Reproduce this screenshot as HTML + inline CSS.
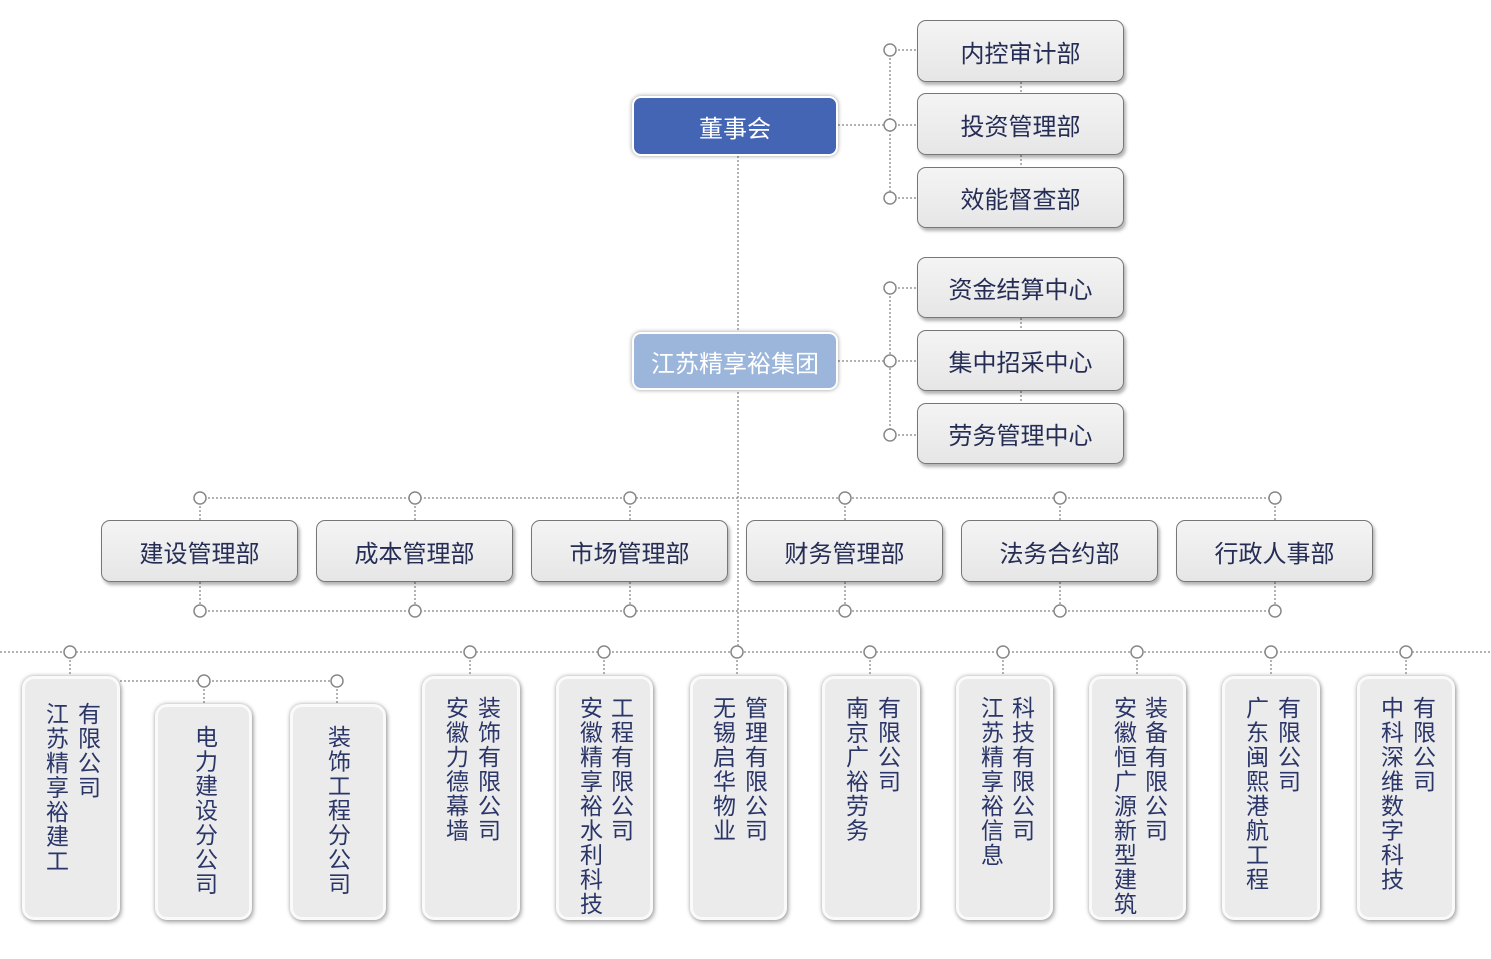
<!DOCTYPE html>
<html><head><meta charset="utf-8"><style>
body{margin:0;width:1491px;height:959px;background:#fff;position:relative;overflow:hidden;font-family:"Liberation Sans","Noto Sans CJK SC",sans-serif}
.b{position:absolute;box-sizing:border-box;border:1.5px solid #777;border-radius:9px;background:linear-gradient(#f4f4f4,#e6e6e6);box-shadow:2px 3px 3px rgba(0,0,0,.3);display:flex;align-items:center;justify-content:center;font-size:24px;color:#252d55}
.s{position:absolute;box-sizing:border-box;border:3px solid #fafafa;border-radius:12px;background:#ebebec;box-shadow:0 0 4px rgba(0,0,0,.35),2px 3px 4px rgba(0,0,0,.2)}
.v{position:absolute;writing-mode:vertical-lr;font-size:23px;letter-spacing:1.5px;color:#2b3668;line-height:1;transform:translateX(-50%)}
svg{position:absolute;left:0;top:0}
</style></head><body>
<svg width="1491" height="959">
<g stroke="#999" stroke-width="1.5" stroke-dasharray="2,2" fill="none">
<line x1="738" y1="156" x2="738" y2="652"/>
<line x1="838" y1="125" x2="917" y2="125"/>
<line x1="838" y1="361" x2="917" y2="361"/>
<line x1="890" y1="50" x2="890" y2="198"/>
<line x1="890" y1="288" x2="890" y2="435"/>
<line x1="890" y1="50" x2="917" y2="50"/><line x1="890" y1="198" x2="917" y2="198"/>
<line x1="890" y1="288" x2="917" y2="288"/><line x1="890" y1="435" x2="917" y2="435"/>
<line x1="1021" y1="82" x2="1021" y2="93"/><line x1="1021" y1="155" x2="1021" y2="167"/>
<line x1="1021" y1="318" x2="1021" y2="330"/><line x1="1021" y1="391" x2="1021" y2="403"/>
<line x1="200" y1="498" x2="1275" y2="498"/>
<line x1="200" y1="611" x2="1275" y2="611"/>
<line x1="0" y1="652" x2="1491" y2="652"/>
<line x1="120" y1="681" x2="337" y2="681"/>
<g>
<line x1="200" y1="498" x2="200" y2="520"/><line x1="415" y1="498" x2="415" y2="520"/><line x1="630" y1="498" x2="630" y2="520"/><line x1="845" y1="498" x2="845" y2="520"/><line x1="1060" y1="498" x2="1060" y2="520"/><line x1="1275" y1="498" x2="1275" y2="520"/>
<line x1="200" y1="582" x2="200" y2="611"/><line x1="415" y1="582" x2="415" y2="611"/><line x1="630" y1="582" x2="630" y2="611"/><line x1="845" y1="582" x2="845" y2="611"/><line x1="1060" y1="582" x2="1060" y2="611"/><line x1="1275" y1="582" x2="1275" y2="611"/>
<line x1="70" y1="652" x2="70" y2="676"/><line x1="470" y1="652" x2="470" y2="676"/><line x1="604" y1="652" x2="604" y2="676"/><line x1="737" y1="652" x2="737" y2="676"/><line x1="870" y1="652" x2="870" y2="676"/><line x1="1003" y1="652" x2="1003" y2="676"/><line x1="1137" y1="652" x2="1137" y2="676"/><line x1="1271" y1="652" x2="1271" y2="676"/><line x1="1406" y1="652" x2="1406" y2="676"/>
<line x1="204" y1="681" x2="204" y2="704"/><line x1="337" y1="681" x2="337" y2="704"/>
</g></g>
<g fill="#fff" stroke="#888" stroke-width="1.5">
<circle cx="890" cy="50" r="6"/><circle cx="890" cy="125" r="6"/><circle cx="890" cy="198" r="6"/>
<circle cx="890" cy="288" r="6"/><circle cx="890" cy="361" r="6"/><circle cx="890" cy="435" r="6"/>
<circle cx="200" cy="498" r="6"/><circle cx="415" cy="498" r="6"/><circle cx="630" cy="498" r="6"/><circle cx="845" cy="498" r="6"/><circle cx="1060" cy="498" r="6"/><circle cx="1275" cy="498" r="6"/>
<circle cx="200" cy="611" r="6"/><circle cx="415" cy="611" r="6"/><circle cx="630" cy="611" r="6"/><circle cx="845" cy="611" r="6"/><circle cx="1060" cy="611" r="6"/><circle cx="1275" cy="611" r="6"/>
<circle cx="70" cy="652" r="6"/><circle cx="470" cy="652" r="6"/><circle cx="604" cy="652" r="6"/><circle cx="737" cy="652" r="6"/><circle cx="870" cy="652" r="6"/><circle cx="1003" cy="652" r="6"/><circle cx="1137" cy="652" r="6"/><circle cx="1271" cy="652" r="6"/><circle cx="1406" cy="652" r="6"/>
<circle cx="204" cy="681" r="6"/><circle cx="337" cy="681" r="6"/>
</g>
</svg>
<div class="b" style="left:632px;top:96px;width:206px;height:60px;background:#4464b4;border:2px solid #fff;color:#fff;box-shadow:0 0 4px rgba(0,0,0,.4)">董事会</div>
<div class="b" style="left:632px;top:332px;width:206px;height:58px;background:#9bb6da;border:2px solid #fff;color:#fff;box-shadow:0 0 4px rgba(0,0,0,.4)">江苏精享裕集团</div>
<div class="b" style="left:917px;top:20px;width:207px;height:62px">内控审计部</div>
<div class="b" style="left:917px;top:93px;width:207px;height:62px">投资管理部</div>
<div class="b" style="left:917px;top:167px;width:207px;height:61px">效能督查部</div>
<div class="b" style="left:917px;top:257px;width:207px;height:61px">资金结算中心</div>
<div class="b" style="left:917px;top:330px;width:207px;height:61px">集中招采中心</div>
<div class="b" style="left:917px;top:403px;width:207px;height:61px">劳务管理中心</div>
<div class="b" style="left:101px;top:520px;width:197px;height:62px">建设管理部</div>
<div class="b" style="left:316px;top:520px;width:197px;height:62px">成本管理部</div>
<div class="b" style="left:531px;top:520px;width:197px;height:62px">市场管理部</div>
<div class="b" style="left:746px;top:520px;width:197px;height:62px">财务管理部</div>
<div class="b" style="left:961px;top:520px;width:197px;height:62px">法务合约部</div>
<div class="b" style="left:1176px;top:520px;width:197px;height:62px">行政人事部</div>
<div class="s" style="left:22px;top:676px;width:98px;height:244px"></div>
<div class="s" style="left:155px;top:704px;width:97px;height:216px"></div>
<div class="s" style="left:290px;top:704px;width:96px;height:216px"></div>
<div class="s" style="left:422px;top:676px;width:98px;height:244px"></div>
<div class="s" style="left:556px;top:676px;width:97px;height:244px"></div>
<div class="s" style="left:690px;top:676px;width:97px;height:244px"></div>
<div class="s" style="left:822px;top:676px;width:98px;height:244px"></div>
<div class="s" style="left:956px;top:676px;width:97px;height:244px"></div>
<div class="s" style="left:1089px;top:676px;width:97px;height:244px"></div>
<div class="s" style="left:1222px;top:676px;width:98px;height:244px"></div>
<div class="s" style="left:1357px;top:676px;width:98px;height:244px"></div>
<div class="v" style="left:55px;top:702px">江苏精享裕建工</div><div class="v" style="left:87px;top:702px">有限公司</div>
<div class="v" style="left:204px;top:725px">电力建设分公司</div>
<div class="v" style="left:337px;top:725px">装饰工程分公司</div>
<div class="v" style="left:455px;top:696px">安徽力德幕墙</div><div class="v" style="left:487px;top:696px">装饰有限公司</div>
<div class="v" style="left:589px;top:696px">安徽精享裕水利科技</div><div class="v" style="left:620px;top:696px">工程有限公司</div>
<div class="v" style="left:722px;top:696px">无锡启华物业</div><div class="v" style="left:754px;top:696px">管理有限公司</div>
<div class="v" style="left:855px;top:696px">南京广裕劳务</div><div class="v" style="left:887px;top:696px">有限公司</div>
<div class="v" style="left:990px;top:696px">江苏精享裕信息</div><div class="v" style="left:1021px;top:696px">科技有限公司</div>
<div class="v" style="left:1123px;top:696px">安徽恒广源新型建筑</div><div class="v" style="left:1154px;top:696px">装备有限公司</div>
<div class="v" style="left:1255px;top:696px">广东闽熙港航工程</div><div class="v" style="left:1287px;top:696px">有限公司</div>
<div class="v" style="left:1390px;top:696px">中科深维数字科技</div><div class="v" style="left:1422px;top:696px">有限公司</div>
</body></html>
